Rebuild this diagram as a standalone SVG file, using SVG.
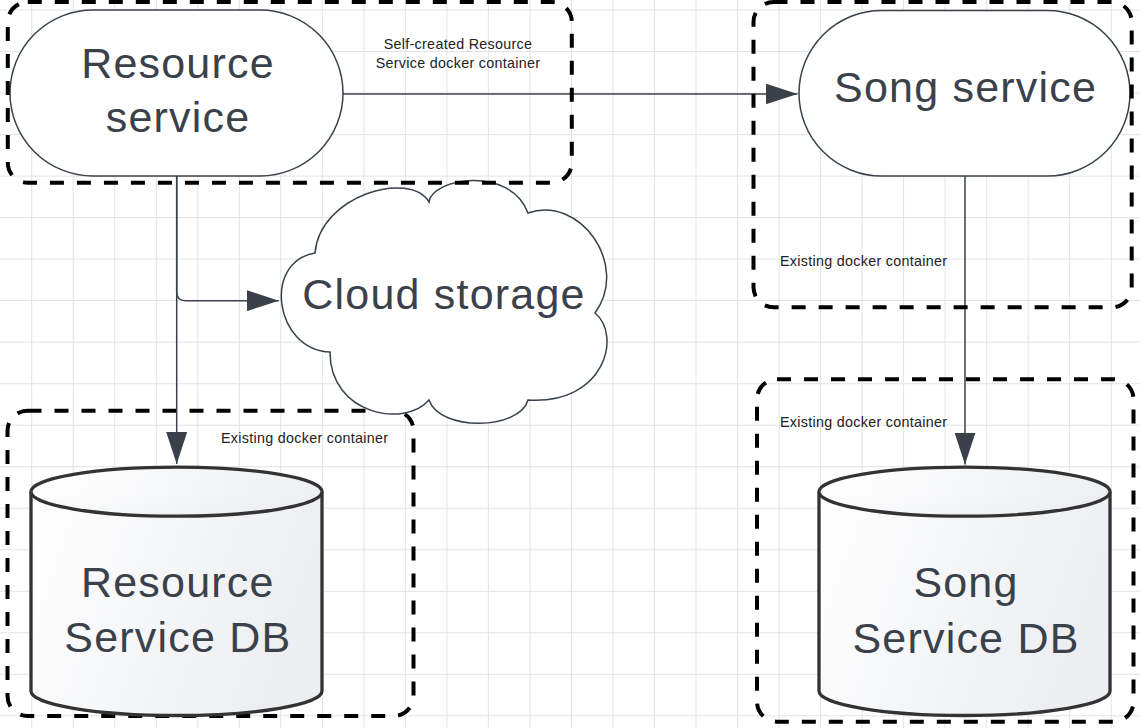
<svg xmlns="http://www.w3.org/2000/svg" width="1140" height="728" viewBox="0 0 1140 728">
<style>
.grid{stroke:#e3e3e3;stroke-width:1;fill:none}
.box{fill:none;stroke:#000;stroke-width:4;stroke-dasharray:14 13}
.shape{fill:#fff;stroke:#3a414a;stroke-width:1.5}
.db{fill:url(#dbfill);stroke:#333;stroke-width:3.3}
.big{font-family:"Liberation Sans",Arial,sans-serif;font-size:43px;fill:#3a414a;text-anchor:middle;letter-spacing:1.2px}
.small{font-family:"Liberation Sans",Arial,sans-serif;font-size:14.3px;fill:#222;letter-spacing:0.3px}
.conn{fill:none;stroke:#3a414a;stroke-width:1.5}
</style>
<defs>
<linearGradient id="dbfill" x1="0" y1="0" x2="1" y2="0.3">
<stop offset="0" stop-color="#ffffff"/>
<stop offset="1" stop-color="#eceef1"/>
</linearGradient>
<marker id="arr" viewBox="0 0 32 21" refX="32" refY="10.5" markerWidth="32" markerHeight="21" markerUnits="userSpaceOnUse" orient="auto">
<path d="M0,0 L32,10.5 L0,21 Z" fill="#3a414a"/>
</marker>
</defs>
<rect width="1140" height="728" fill="#fff"/>
<path class="grid" d="M31.7,0V728M73.2,0V728M114.7,0V728M156.3,0V728M197.8,0V728M239.3,0V728M280.8,0V728M322.3,0V728M363.9,0V728M405.4,0V728M446.9,0V728M488.4,0V728M530,0V728M571.5,0V728M613,0V728M654.5,0V728M696,0V728M737.5,0V728M779.1,0V728M820.6,0V728M862.1,0V728M903.6,0V728M945.1,0V728M986.7,0V728M1028.2,0V728M1069.7,0V728M1111.2,0V728M0,10H1140M0,51.5H1140M0,93H1140M0,134.6H1140M0,176.1H1140M0,217.6H1140M0,259.1H1140M0,300.6H1140M0,342.2H1140M0,383.7H1140M0,425.2H1140M0,466.7H1140M0,508.2H1140M0,549.8H1140M0,591.3H1140M0,632.8H1140M0,674.3H1140M0,715.8H1140"/>

<g id="resource-db-container">
<rect class="box" x="7.5" y="410.7" width="406" height="305.3" rx="20"/>
<text class="small" x="221" y="443">Existing docker container</text>
</g>
<g id="song-db-container">
<rect class="box" x="757" y="379.3" width="376.5" height="342.4" rx="20"/>
<text class="small" x="780" y="427">Existing docker container</text>
</g>

<g id="cloud-storage">
<path class="shape" d="M315,253 C320,195 410,170 429,202 C432,178 510,165 528,213 C580,195 630,265 595,313 C622,335 605,405 528,400 C520,430 440,432 429,400 C405,428 330,415 330,352 C275,350 262,262 315,253 Z"/>
<text class="big" x="444" y="309">Cloud storage</text>
</g>

<g id="resource-service">
<rect class="shape" x="10" y="10" width="333" height="166" rx="83"/>
<text class="big" x="178" y="78">Resource</text>
<text class="big" x="178" y="132">service</text>
</g>

<g id="song-service">
<rect class="shape" x="799" y="10.5" width="331" height="165.5" rx="82.75"/>
<text class="big" x="965.6" y="102">Song service</text>
</g>

<g id="resource-service-db">
<path class="db" d="M31,491.7 V691 A145.5,24.5 0 0 0 322,691 V491.7 A145.5,24.5 0 0 0 31,491.7 Z"/>
<path class="db" d="M31,491.7 A145.5,24.5 0 0 0 322,491.7" fill="none"/>
<text class="big" x="177.8" y="597">Resource</text>
<text class="big" x="177.8" y="652">Service DB</text>
</g>

<g id="song-service-db">
<path class="db" d="M819,491.7 V691 A145.5,24.5 0 0 0 1110,691 V491.7 A145.5,24.5 0 0 0 819,491.7 Z"/>
<path class="db" d="M819,491.7 A145.5,24.5 0 0 0 1110,491.7" fill="none"/>
<text class="big" x="966" y="597">Song</text>
<text class="big" x="966" y="653">Service DB</text>
</g>

<g id="connectors">
<path class="conn" d="M343,94 H797.5" marker-end="url(#arr)"/>
<path class="conn" d="M176.7,176 V464" marker-end="url(#arr)"/>
<path class="conn" d="M176.7,176 V292 Q176.7,300.7 185.4,300.7 H278.8" marker-end="url(#arr)"/>
<path class="conn" d="M965,176 V464.5" marker-end="url(#arr)"/>
</g>

<g id="resource-service-container">
<rect class="box" x="7.8" y="2" width="564" height="180.7" rx="20"/>
<text class="small" x="458" y="49" text-anchor="middle">Self-created Resource</text>
<text class="small" x="458" y="67.5" text-anchor="middle">Service docker container</text>
</g>
<g id="song-service-container">
<rect class="box" x="753.5" y="2" width="378.2" height="305.3" rx="20"/>
<text class="small" x="780" y="265.5">Existing docker container</text>
</g>
</svg>
